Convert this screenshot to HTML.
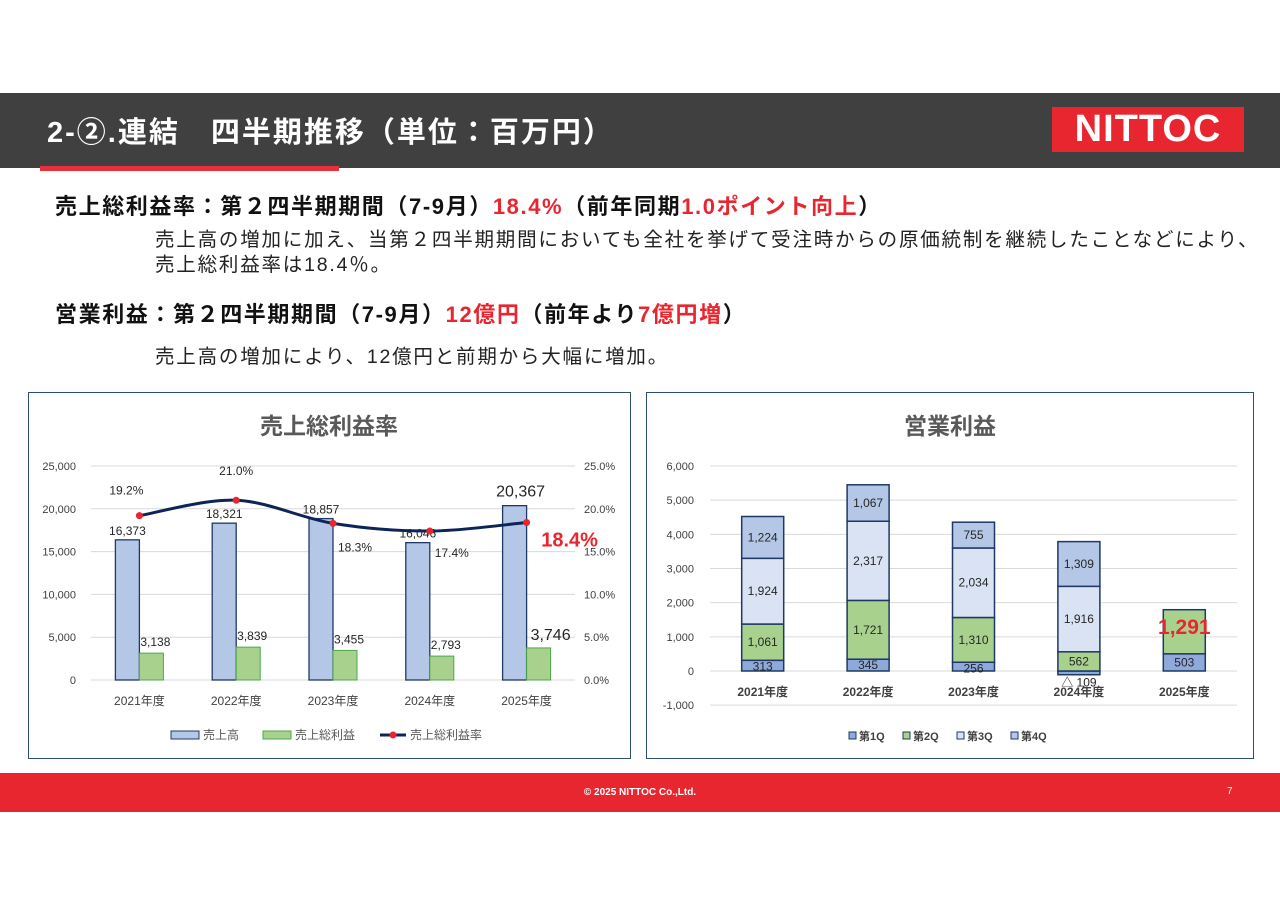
<!DOCTYPE html>
<html><head><meta charset="utf-8"><style>
body{margin:0;width:1280px;height:905px;position:relative;background:#fff;font-family:"Liberation Sans","Noto Sans CJK JP",sans-serif;overflow:hidden}
.a{position:absolute;white-space:nowrap}
.r{color:#e8262f}
</style></head><body>
<div class="a" style="left:0;top:93px;width:1280px;height:75px;background:#404040"></div>
<div class="a" style="left:40px;top:166px;width:299px;height:5px;background:#e8303a"></div>
<div class="a" style="left:47px;top:109px;font-size:29px;font-weight:bold;color:#fff;letter-spacing:2px">2-②.連結　四半期推移（単位：百万円）</div>
<div class="a" style="left:1052px;top:107px;width:192px;height:45px;background:#e8262f;color:#fff;font-weight:bold;font-size:38px;line-height:45px;text-align:center;letter-spacing:1px">NITTOC</div>
<div class="a" style="left:55px;top:189px;font-size:22px;font-weight:bold;color:#111;letter-spacing:1.6px">売上総利益率：第２四半期期間（7-9月）<span class="r">18.4%</span>（前年同期<span class="r">1.0ポイント向上</span>）</div>
<div class="a" style="left:155px;top:228px;font-size:19.5px;line-height:25px;color:#222;letter-spacing:1.8px">売上高の増加に加え、当第２四半期期間においても全社を挙げて受注時からの原価統制を継続したことなどにより、<br>売上総利益率は18.4％。</div>
<div class="a" style="left:55px;top:297px;font-size:22px;font-weight:bold;color:#111;letter-spacing:1.6px">営業利益：第２四半期期間（7-9月）<span class="r">12億円</span>（前年より<span class="r">7億円増</span>）</div>
<div class="a" style="left:155px;top:340px;font-size:19.5px;color:#222;letter-spacing:1.8px">売上高の増加により、12億円と前期から大幅に増加。</div>
<svg class="a" id="c1" style="left:0;top:0" width="1280" height="905"></svg>
<div class="a" style="left:0;top:773px;width:1280px;height:39px;background:#e8262f"></div>
<div class="a" style="left:0;top:787px;width:1280px;text-align:center;color:#fff;font-size:10px;font-weight:bold">© 2025 NITTOC Co.,Ltd.</div>
<div class="a" style="left:1227px;top:786px;color:#fff;font-size:10px">7</div>
<script>
const years=["2021年度","2022年度","2023年度","2024年度","2025年度"];
const sales=[16373,18321,18857,16046,20367];
const gross=[3138,3839,3455,2793,3746];
const margin=[19.2,21.0,18.3,17.4,18.4];
const leftTicks=[0,5000,10000,15000,20000,25000];
const rightTicks=[0,5,10,15,20,25];
const q1=[313,345,256,-109,503];
const q2=[1061,1721,1310,562,1291];
const q3=[1924,2317,2034,1916,0];
const q4=[1224,1067,755,1309,0];
const opTicks=[-1000,0,1000,2000,3000,4000,5000,6000];
const NS="http://www.w3.org/2000/svg";
const svg=document.getElementById('c1');
function mk(t,at,txt){const e=document.createElementNS(NS,t);for(const k in at)e.setAttribute(k,at[k]);if(txt!==undefined)e.textContent=txt;svg.appendChild(e);return e;}
function fmt(v){return v.toLocaleString('en-US');}
let p=mk('rect',{x:28.5,y:392.5,width:602,height:366,fill:'#fff',stroke:'#2f4d7a'});

p=mk('rect',{x:646.5,y:392.5,width:607,height:366,fill:'#fff',stroke:'#2f4d7a'});

let t=mk('text',{x:329,y:434,'text-anchor':'middle','font-size':23,'font-weight':'bold',fill:'#595959'},'売上総利益率');

t=mk('text',{x:950,y:434,'text-anchor':'middle','font-size':23,'font-weight':'bold',fill:'#595959'},'営業利益');

const L0=91,LW=484,Y0=680,YH=214;
const yL=v=>Y0-v/25000*YH, yR=v=>Y0-v/25*YH, xL=i=>L0+LW/5*(i+0.5);
leftTicks.forEach(v=>{const g=mk('line',{x1:L0,x2:L0+LW,y1:yL(v),y2:yL(v),stroke:'#d9d9d9'});
const l=mk('text',{x:76,y:yL(v)+4,'text-anchor':'end','font-size':11,fill:'#404040'},fmt(v));});
rightTicks.forEach(v=>{const l=mk('text',{x:584,y:yR(v)+4,'font-size':11,fill:'#404040'},v.toFixed(1)+'%');});
years.forEach((y,i)=>{const l=mk('text',{x:xL(i),y:705,'text-anchor':'middle','font-size':12,fill:'#404040'},y);});
sales.forEach((v,i)=>{const b=mk('rect',{x:xL(i)-24,y:yL(v),width:24,height:Y0-yL(v),fill:'#b4c7e7',stroke:'#1f3864','stroke-width':1.3});
const big=i===4;const l=mk('text',{x:xL(i)-(big?6:12),y:yL(v)-(big?9:5),'text-anchor':'middle','font-size':big?16:12,fill:'#262626'},fmt(v));});
gross.forEach((v,i)=>{const b=mk('rect',{x:xL(i),y:yL(v),width:24,height:Y0-yL(v),fill:'#a9d18e',stroke:'#4ea64e','stroke-width':1});
const big=i===4;const l=mk('text',{x:xL(i)+(big?24:16),y:yL(v)-(big?8:7),'text-anchor':'middle','font-size':big?16:12,fill:'#262626'},fmt(v));});
const pts=margin.map((v,i)=>[xL(i),yR(v)]);
let d='M'+pts[0][0]+','+pts[0][1];
for(let i=0;i<pts.length-1;i++){const p0=pts[Math.max(0,i-1)],p1=pts[i],p2=pts[i+1],p3=pts[Math.min(pts.length-1,i+2)];
d+=' C'+(p1[0]+(p2[0]-p0[0])/6)+','+(p1[1]+(p2[1]-p0[1])/6)+' '+(p2[0]-(p3[0]-p1[0])/6)+','+(p2[1]-(p3[1]-p1[1])/6)+' '+p2[0]+','+p2[1];}
const ln=mk('path',{d:d,fill:'none',stroke:'#0c2556','stroke-width':3});
const off=[[-13,-21],[0,-25],[22,28],[22,26],[43,24]];
margin.forEach((v,i)=>{const c=mk('circle',{cx:xL(i),cy:yR(v),r:3.5,fill:'#e8262f'});
const big=i===4;const l=mk('text',{x:xL(i)+off[i][0],y:yR(v)+off[i][1],'text-anchor':'middle','font-size':big?20:12,'font-weight':big?'bold':'normal',fill:big?'#e8262f':'#262626'},v.toFixed(1)+'%');});
[['rect',171,'#b4c7e7','#1f3864','売上高'],['rect',263,'#a9d18e','#4ea64e','売上総利益']].forEach(a=>{const r=mk('rect',{x:a[1],y:731,width:28,height:8,fill:a[2],stroke:a[3]});
const l=mk('text',{x:a[1]+32,y:739,'font-size':12,fill:'#595959'},a[4]);});
let lg=mk('line',{x1:380,x2:406,y1:735,y2:735,stroke:'#0c2556','stroke-width':3});
lg=mk('circle',{cx:393,cy:735,r:3.5,fill:'#e8262f'});
lg=mk('text',{x:410,y:739,'font-size':12,fill:'#595959'},'売上総利益率');
const R0=710,RW=527,Z=671,S=205/6000;
const yO=v=>Z-v*S, xO=i=>R0+RW/5*(i+0.5);
opTicks.forEach(v=>{const g=mk('line',{x1:R0,x2:R0+RW,y1:yO(v),y2:yO(v),stroke:'#d9d9d9'});
const l=mk('text',{x:694,y:yO(v)+4,'text-anchor':'end','font-size':11,fill:'#404040'},fmt(v));});
const series=[[q1,'#8eaadb','q1'],[q2,'#a9d18e','q2'],[q3,'#dae3f3','q3'],[q4,'#b4c7e7','q4']];
years.forEach((y,i)=>{let base=0;
series.forEach(([arr,col,nm],k)=>{const v=arr[i];if(!v)return;let top,bot;
if(v<0){top=0;bot=v;}else{bot=base;top=base+v;base=top;}
const r=mk('rect',{x:xO(i)-21,y:yO(top),width:42,height:yO(bot)-yO(top),fill:col,stroke:'#1f3864','stroke-width':1.5});
let lx=xO(i),ly=(yO(top)+yO(bot))/2+4,fs=12,fw='normal',fc='#262626',txt=fmt(v);
if(v<0){txt='△ '+fmt(-v);ly=yO(bot)+12;}
if(k===0&&v>0)ly=Math.max(ly,yO(top)+10);
if(i===4&&k===1){fs=21;fw='bold';fc='#e8262f';ly-=2;}
const l=mk('text',{x:lx,y:ly,'text-anchor':'middle','font-size':fs,'font-weight':fw,fill:fc},txt);});
const l=mk('text',{x:xO(i),y:696,'text-anchor':'middle','font-size':12,'font-weight':'bold',fill:'#404040'},y);});
['第1Q','第2Q','第3Q','第4Q'].forEach((n,k)=>{const x=849+54*k;const r=mk('rect',{x:x,y:732,width:7,height:7,fill:series[k][1],stroke:'#1f3864'});
const l=mk('text',{x:x+10,y:740,'font-size':11,'font-weight':'bold',fill:'#404040'},n);});
</script>
</body></html>
